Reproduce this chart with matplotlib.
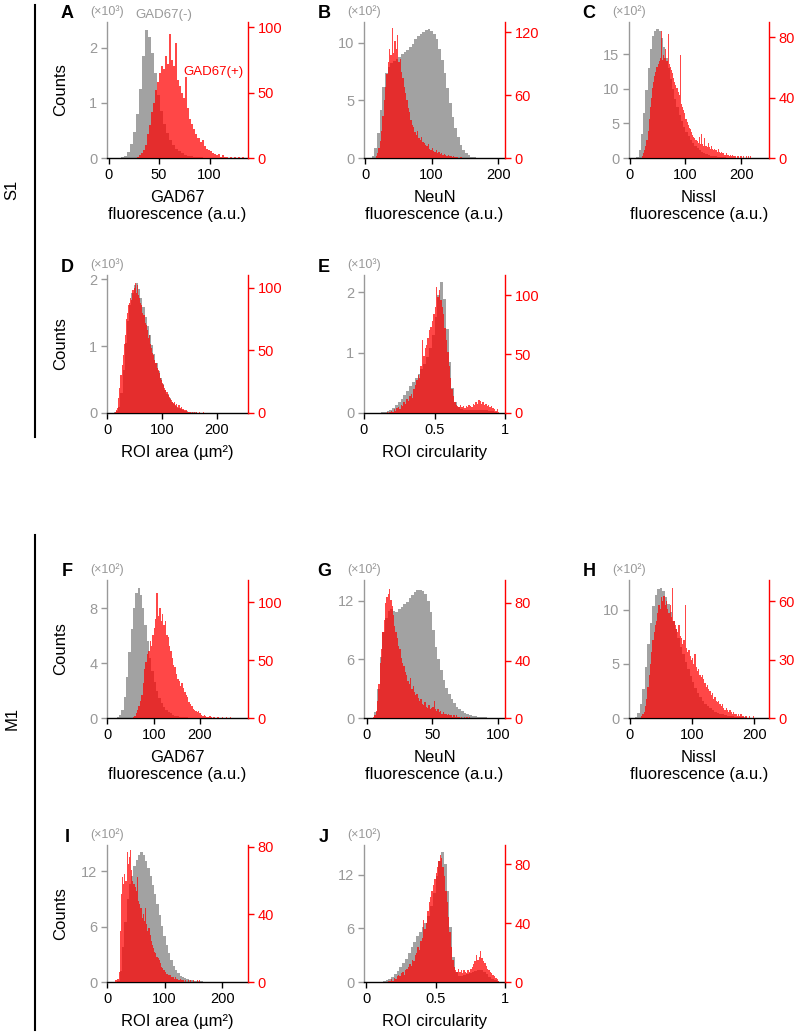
import numpy as np
import matplotlib
matplotlib.use("Agg")
import matplotlib.pyplot as plt
from matplotlib.lines import Line2D

plt.rcParams['font.family'] = ['Liberation Sans', 'DejaVu Sans']

# ---- histogram counts ----
# GAD67(-) cells = gray, GAD67(+) cells = red; (start, bin width) given per series

# S1
a_neg = [10, 40, 110, 250, 470, 800, 1250, 1850, 2330, 2200, 1900, 1550, 1150, 850, 620, 450, 330, 240,
         170, 120, 85, 60, 40, 28, 20, 14, 10, 7, 5, 3, 2, 2, 1, 1]
a_pos = [1, 2, 4, 6, 10, 18, 25, 35, 42, 52, 58, 65, 70, 68, 78, 72, 95, 75, 70, 88, 60, 55, 50, 46, 62,
         38, 30, 26, 22, 18, 15, 12, 14, 9, 7, 6, 5, 4, 3, 2, 3, 1, 2, 1, 1, 0, 1, 0, 1, 0, 1, 0, 1]
b_neg = [20, 90, 220, 420, 620, 740, 790, 820, 840, 860, 880, 900, 920, 940, 960, 990, 1030, 1060, 1080,
         1095, 1110, 1120, 1100, 1075, 1030, 950, 850, 740, 610, 480, 360, 260, 180, 115, 70, 40, 22, 12,
         7, 4, 3, 2, 1, 1, 1]
b_pos = [2, 5, 10, 16, 26, 40, 55, 68, 80, 92, 104, 98, 124, 100, 112, 104, 118, 92, 95, 82, 76, 68, 62,
         55, 48, 44, 36, 32, 30, 25, 22, 26, 19, 17, 20, 15, 14, 12, 11, 13, 9, 8, 10, 7, 6, 8, 5, 6, 4,
         5, 3, 4, 3, 2, 3, 2, 2, 1, 2, 1, 1, 1, 0, 1, 1]
c_neg = [20, 120, 340, 650, 980, 1300, 1580, 1760, 1840, 1870, 1830, 1740, 1600, 1450, 1300, 1140, 990,
         850, 730, 620, 530, 450, 380, 320, 265, 220, 180, 145, 115, 92, 74, 58, 46, 36, 28, 22, 17, 13,
         10, 8, 6, 5, 4, 3, 2, 2, 1, 1]
c_pos = [1, 3, 5, 8, 12, 18, 26, 34, 40, 46, 50, 54, 57, 60, 62, 64, 66, 84, 65, 68, 66, 72, 64, 82, 62,
         60, 58, 56, 53, 50, 48, 46, 44, 42, 68, 36, 34, 32, 30, 26, 24, 22, 20, 19, 17, 15, 14, 13, 12,
         11, 10, 14, 9, 16, 9, 8, 13, 8, 7, 10, 7, 6, 8, 6, 5, 6, 5, 4, 6, 4, 3, 4, 3, 3, 2, 3, 2, 2, 1,
         2, 1, 2, 1, 1, 0, 1, 1, 0, 1, 1, 0, 1, 0, 1, 0, 1, 0, 1]
d_neg = [10, 30, 90, 300, 650, 1050, 1380, 1620, 1800, 1920, 1950, 1850, 1720, 1580, 1440, 1300, 1160,
         1020, 880, 750, 630, 530, 430, 350, 280, 220, 170, 130, 100, 76, 58, 44, 33, 25, 19, 15, 12, 9,
         7, 6, 5, 4, 3, 3, 2, 2, 2, 1, 1, 1, 1, 1, 1]
d_pos = [1, 2, 4, 12, 20, 30, 38, 46, 55, 62, 75, 80, 86, 88, 92, 90, 98, 100, 104, 96, 102, 94, 92, 88,
         86, 80, 78, 72, 70, 66, 60, 62, 55, 52, 48, 46, 42, 40, 36, 34, 32, 28, 26, 24, 22, 20, 18, 17,
         14, 13, 11, 10, 9, 8, 9, 6, 7, 5, 6, 4, 5, 3, 3, 2, 2, 2, 1, 1, 1, 0, 1, 0, 1, 0, 1, 0, 0, 1, 0,
         0, 1]
e_neg = [5, 10, 20, 35, 55, 85, 125, 175, 235, 300, 370, 440, 510, 580, 650, 730, 820, 930, 1080, 1300,
         1600, 1950, 2170, 1900, 1400, 850, 420, 190, 100, 70, 58, 52, 50, 48, 50, 52, 55, 50, 45, 38, 28,
         18, 8, 3]
e_pos = [1, 0, 1, 2, 1, 3, 2, 4, 5, 3, 7, 6, 9, 8, 12, 10, 14, 16, 13, 20, 24, 28, 32, 30, 40, 62, 48, 55,
         58, 64, 70, 73, 78, 84, 90, 107, 98, 104, 96, 90, 84, 72, 62, 52, 40, 30, 20, 14, 9, 7, 6, 5, 7,
         5, 6, 4, 6, 5, 7, 6, 5, 8, 7, 9, 8, 11, 10, 8, 9, 7, 8, 6, 7, 5, 6, 4, 3, 2, 3, 1]

# M1
f_neg = [5, 20, 60, 150, 300, 480, 650, 800, 910, 950, 900, 800, 680, 560, 440, 340, 260, 195, 145, 108,
         80, 60, 45, 33, 25, 18, 13, 10, 7, 5, 4, 3, 2, 2, 1, 1, 1]
f_pos = [1, 2, 4, 7, 10, 15, 20, 30, 42, 48, 55, 58, 66, 62, 72, 78, 85, 108, 88, 95, 84, 90, 80, 84, 72,
         70, 62, 58, 52, 46, 44, 38, 34, 32, 28, 30, 26, 22, 20, 18, 14, 12, 10, 8, 7, 6, 5, 6, 4, 3, 2,
         3, 2, 1, 1, 2, 1, 0, 1, 0, 0, 1, 0, 0, 1, 0, 0, 1, 0, 0, 1]
g_neg = [5, 60, 300, 620, 880, 1020, 1090, 1110, 1090, 1080, 1110, 1130, 1160, 1190, 1230, 1260, 1290,
         1305, 1310, 1300, 1270, 1200, 1080, 900, 730, 600, 490, 390, 310, 245, 190, 150, 115, 90, 70, 52,
         40, 30, 23, 18, 14, 11, 8, 6, 5, 4, 3, 2]
g_pos = [1, 2, 5, 12, 24, 38, 48, 60, 68, 80, 84, 86, 90, 82, 78, 72, 64, 60, 56, 50, 48, 42, 38, 36, 32,
         30, 26, 24, 28, 20, 22, 18, 16, 17, 14, 12, 13, 10, 9, 11, 8, 7, 9, 6, 7, 8, 12, 6, 5, 6, 4, 5, 3,
         4, 3, 3, 2, 3, 2, 2, 1, 2, 1, 2, 1, 1, 0, 1, 0, 1, 0, 1, 0, 1]
h_neg = [10, 50, 130, 270, 470, 680, 880, 1040, 1140, 1190, 1200, 1170, 1120, 1050, 980, 900, 820, 740,
         660, 590, 520, 450, 390, 330, 280, 235, 195, 160, 130, 108, 90, 74, 60, 50, 41, 34, 28, 23, 19,
         15, 12, 10, 8, 6, 5, 4, 3, 2, 2, 1, 1]
h_pos = [1, 2, 3, 6, 10, 16, 22, 28, 34, 40, 44, 48, 50, 54, 58, 56, 62, 60, 63, 58, 60, 56, 54, 58, 52,
         67, 50, 48, 46, 44, 48, 42, 41, 38, 40, 58, 36, 34, 35, 32, 30, 31, 28, 33, 26, 24, 25, 22, 21,
         22, 20, 18, 16, 17, 15, 14, 12, 13, 10, 11, 9, 8, 9, 7, 6, 7, 5, 4, 5, 4, 3, 4, 3, 2, 3, 2, 2, 1,
         2, 1, 2, 1, 1, 0, 1, 0, 0, 1, 0, 0, 1]
i_neg = [10, 120, 380, 650, 900, 1060, 1150, 1260, 1320, 1380, 1410, 1380, 1310, 1230, 1150, 1050, 950,
         840, 720, 610, 500, 400, 310, 235, 175, 130, 95, 70, 52, 40, 30, 23, 17, 13, 10, 8, 6, 5, 4, 3,
         2, 2, 1, 1]
i_pos = [1, 1, 2, 6, 30, 52, 62, 58, 64, 60, 77, 70, 74, 78, 66, 60, 58, 56, 54, 62, 48, 46, 44, 38, 40,
         36, 44, 34, 30, 32, 28, 24, 22, 20, 18, 17, 15, 14, 13, 11, 9, 8, 7, 6, 5, 5, 4, 4, 4, 3, 3, 2,
         3, 2, 2, 1, 2, 1, 1, 1, 0, 1, 0, 1, 0, 1, 0, 0, 1, 0, 0, 1, 0, 1]
j_neg = [5, 10, 20, 35, 60, 90, 125, 165, 210, 260, 320, 390, 450, 510, 560, 610, 660, 740, 850, 1000,
         1180, 1350, 1450, 1320, 1020, 620, 280, 110, 70, 65, 75, 85, 100, 115, 128, 135, 130, 115, 90, 60,
         35, 18, 8, 3]
j_pos = [1, 1, 2, 1, 3, 2, 4, 5, 4, 6, 7, 5, 8, 9, 10, 12, 11, 15, 14, 18, 20, 24, 22, 28, 30, 42, 36, 40,
         48, 54, 58, 62, 66, 70, 74, 78, 82, 86, 84, 78, 72, 62, 54, 44, 34, 24, 15, 10, 8, 7, 9, 7, 8, 6,
         8, 7, 6, 8, 7, 9, 10, 12, 14, 18, 15, 17, 21, 16, 14, 13, 11, 9, 8, 7, 6, 5, 4, 3, 2, 1]

GRAY_FILL = '#a2a2a2'
GRAY_AX = '#999999'
RED = '#ff0000'

W, H = 797, 1035
fig = plt.figure(figsize=(W / 100, H / 100), dpi=100)


def edges(start, width, n):
    return start + width * np.arange(n + 1)


def panel(box, letter, neg, neg_bin, pos, pos_bin, xlim, xticks, xticklabels,
          ylim1, yticks1, scale, exp, ylim2, yticks2, xlabel, counts=False):
    left, top, right, bottom = box
    ax = fig.add_axes([left / W, 1 - bottom / H, (right - left) / W, (bottom - top) / H])
    ax.stairs(neg, edges(neg_bin[0], neg_bin[1], len(neg)), fill=True, color=GRAY_FILL, lw=0)
    ax.set_xlim(*xlim)
    ax.set_ylim(*ylim1)
    ax.set_yticks(yticks1)
    ax.set_yticklabels([f'{t / scale:g}' for t in yticks1])
    ax.set_xticks(xticks)
    ax.set_xticklabels(xticklabels)
    for s in ['top', 'right']:
        ax.spines[s].set_visible(False)
    ax.spines['left'].set_color(GRAY_AX)
    ax.spines['left'].set_linewidth(1.0)
    ax.spines['bottom'].set_linewidth(1.0)
    ax.tick_params(axis='y', colors=GRAY_AX, labelsize=10.5, length=4, width=1.0, pad=3)
    ax.tick_params(axis='x', colors='black', labelsize=10.5, length=4, width=1.0, pad=3)
    ax.set_xlabel(xlabel, fontsize=12, linespacing=1.15, labelpad=6)

    ax2 = ax.twinx()
    ax2.stairs(pos, edges(pos_bin[0], pos_bin[1], len(pos)), fill=True, color=RED, alpha=0.72, lw=0)
    ax2.set_ylim(*ylim2)
    ax2.set_yticks(yticks2)
    for s in ['top', 'left', 'bottom']:
        ax2.spines[s].set_visible(False)
    ax2.spines['right'].set_color(RED)
    ax2.spines['right'].set_linewidth(1.0)
    ax2.tick_params(axis='y', colors=RED, labelsize=10.5, length=4, width=1.0, pad=3)

    if counts:
        ax.set_ylabel('Counts', fontsize=12, color='black')
        ax.yaxis.set_label_coords(-39 / (right - left), 0.5)
    ax.text(-40 / (right - left), 1 + 8 / (bottom - top), letter, transform=ax.transAxes,
            fontsize=13, fontweight='bold', ha='center', va='center')
    ax.text(0, 1 + 10 / (bottom - top), f'(×10{exp})', transform=ax.transAxes,
            fontsize=9, color=GRAY_AX, ha='center', va='center')
    return ax, ax2


cols = [(107, 248), (364, 505), (629, 769)]
rows = [(22, 158), (275, 413), (580, 718), (845, 982)]


def box(c, r):
    return (cols[c][0], rows[r][0], cols[c][1], rows[r][1])


fl = 'fluorescence (a.u.)'
area = 'ROI area (µm²)'
circ = 'ROI circularity'

axA, _ = panel(box(0, 0), 'A', a_neg, (12, 3), a_pos, (28, 2), (-1.6, 138), [0, 50, 100], ['0', '50', '100'],
               (0, 2470), [0, 1000, 2000], 1000, '³', (0, 104), [0, 50, 100], 'GAD67\n' + fl, counts=True)
panel(box(1, 0), 'B', b_neg, (10, 4), b_pos, (16, 2), (-1.5, 210), [0, 100, 200], ['0', '100', '200'],
      (0, 1180), [0, 500, 1000], 100, '²', (0, 130), [0, 60, 120], 'NeuN\n' + fl)
panel(box(2, 0), 'C', c_neg, (12, 4), c_pos, (22, 2), (-1.2, 250), [0, 100, 200], ['0', '100', '200'],
      (0, 1965), [0, 500, 1000, 1500], 100, '²', (0, 90), [0, 40, 80], 'Nissl\n' + fl)
panel(box(0, 1), 'D', d_neg, (12, 4), d_pos, (14, 2), (-0.5, 257), [0, 100, 200], ['0', '100', '200'],
      (0, 2065), [0, 1000, 2000], 1000, '³', (0, 110), [0, 50, 100], area, counts=True)
panel(box(1, 1), 'E', e_neg, (0.10, 0.02), e_pos, (0.16, 0.01), (0, 1), [0, 0.5, 1], ['0', '0.5', '1'],
      (0, 2290), [0, 1000, 2000], 1000, '³', (0, 117), [0, 50, 100], circ)

panel(box(0, 2), 'F', f_neg, (20, 5), f_pos, (55, 3), (-1, 304), [0, 100, 200], ['0', '100', '200'],
      (0, 1008), [0, 400, 800], 100, '²', (0, 119), [0, 50, 100], 'GAD67\n' + fl, counts=True)
panel(box(1, 2), 'G', g_neg, (4, 2), g_pos, (5, 1), (-2, 105.5), [0, 50, 100], ['0', '50', '100'],
      (0, 1410), [0, 600, 1200], 100, '²', (0, 96), [0, 40, 80], 'NeuN\n' + fl)
panel(box(2, 2), 'H', h_neg, (8, 4), h_pos, (18, 2), (-1.5, 224), [0, 100, 200], ['0', '100', '200'],
      (0, 1276), [0, 500, 1000], 100, '²', (0, 71), [0, 30, 60], 'Nissl\n' + fl)
panel(box(0, 3), 'I', i_neg, (18, 4), i_pos, (14, 2), (0, 245), [0, 100, 200], ['0', '100', '200'],
      (0, 1483), [0, 600, 1200], 100, '²', (0, 81), [0, 40, 80], area, counts=True)
panel(box(1, 3), 'J', j_neg, (0.10, 0.02), j_pos, (0.16, 0.01), (-0.015, 1), [0, 0.5, 1], ['0', '0.5', '1'],
      (0, 1531), [0, 600, 1200], 100, '²', (0, 93), [0, 40, 80], circ)

# legend texts in panel A
axA.text(164 / W, 1 - 15 / H, 'GAD67(-)', transform=fig.transFigure, color=GRAY_AX,
         fontsize=9.5, ha='center', va='center')
axA.text(213 / W, 1 - 72 / H, 'GAD67(+)', transform=fig.transFigure, color=RED,
         fontsize=9.5, ha='center', va='center')

# region brackets
fig.add_artist(Line2D([34.5 / W] * 2, [1 - 5 / H, 1 - 437 / H], color='black', lw=1.5))
fig.add_artist(Line2D([34.5 / W] * 2, [1 - 535 / H, 1 - 1030 / H], color='black', lw=1.5))
fig.text(12 / W, 1 - 190 / H, 'S1', rotation=90, fontsize=12, ha='center', va='center')
fig.text(12 / W, 1 - 718 / H, 'M1', rotation=90, fontsize=12, ha='center', va='center')

fig.savefig('out.png', dpi=100)
